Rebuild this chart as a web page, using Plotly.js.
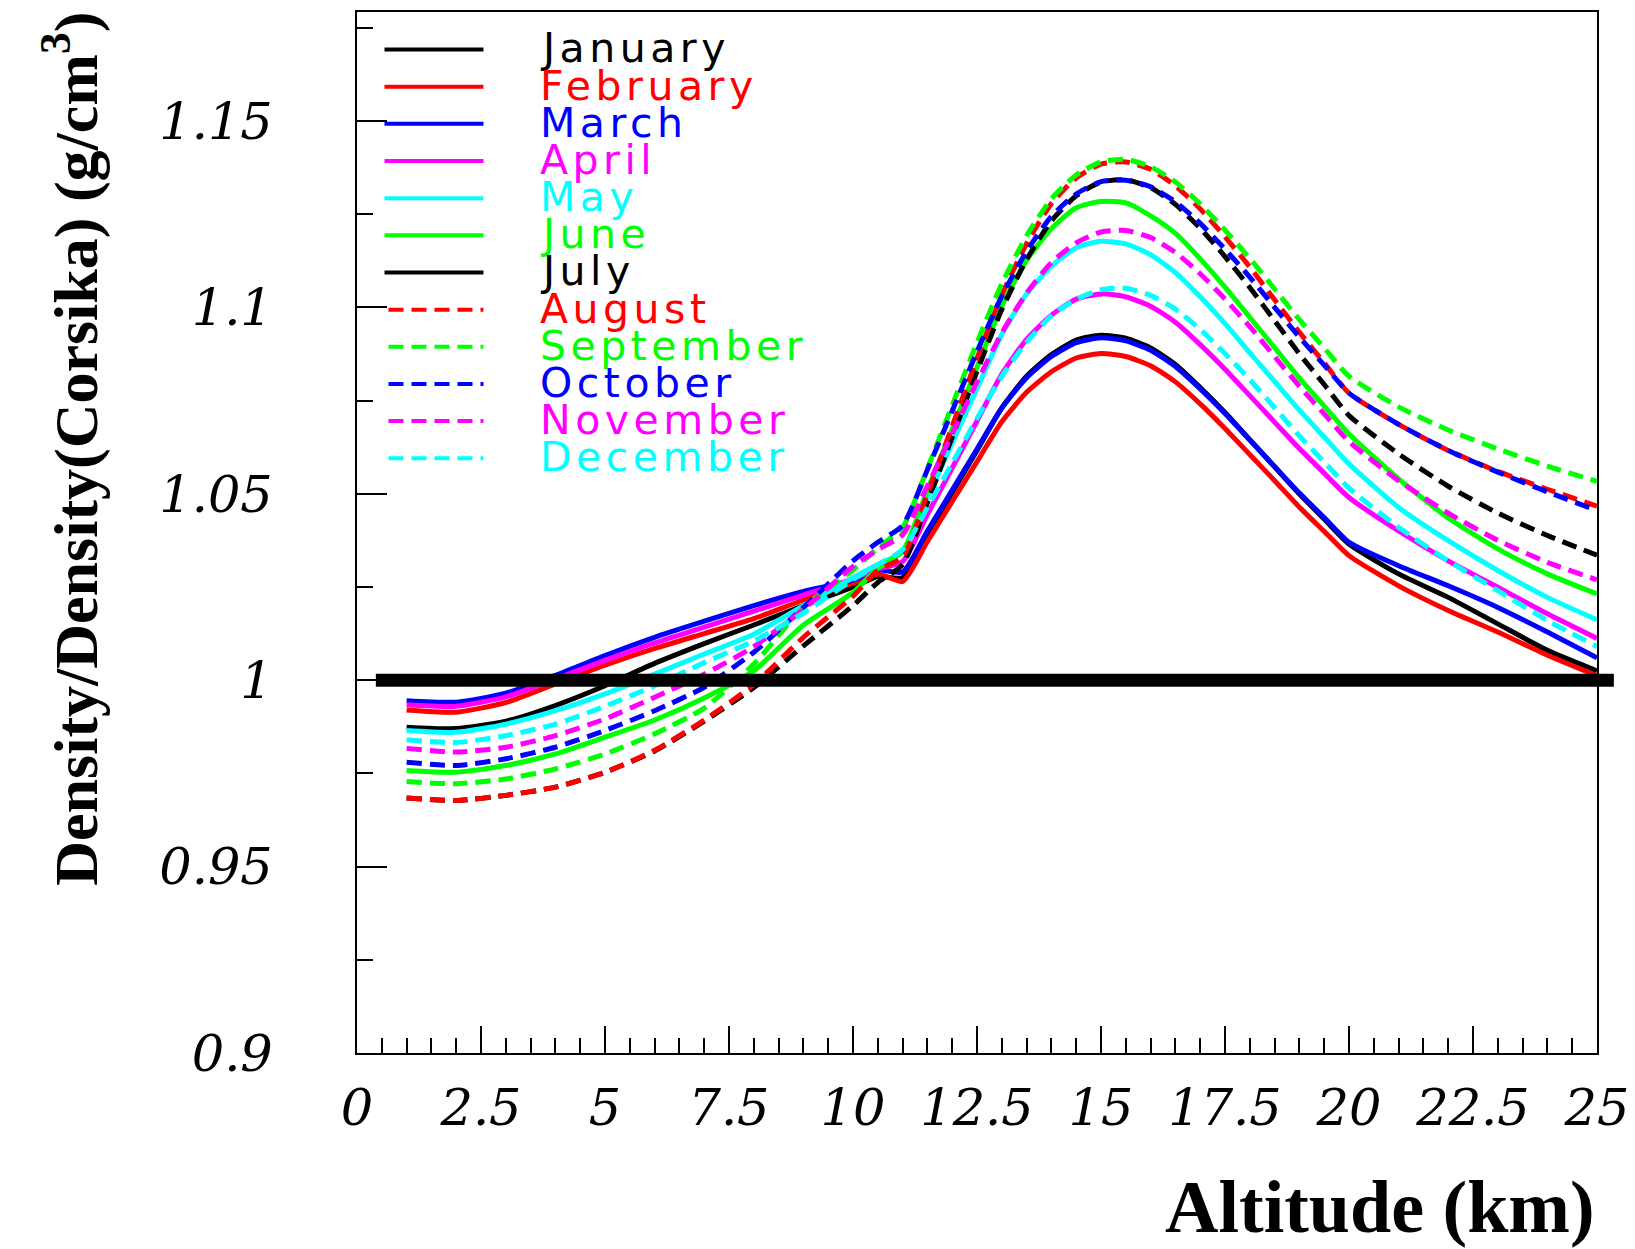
<!DOCTYPE html>
<html>
<head>
<meta charset="utf-8">
<script src="https://cdn.plot.ly/plotly-3.0.1.min.js"></script>
<style>
html,body{margin:0;padding:0;background:#fff;}
#chart{width:1635px;height:1249px;}
</style>
</head>
<body>
<div id="chart"></div>
<script>
// ---------------- DATA ----------------
const altitudeKm = [1, 2, 3, 4, 5, 6, 7, 8, 9, 10, 10.5, 11, 11.5, 12, 12.5, 13, 13.5, 14, 14.5, 15, 15.5, 16, 16.5, 17, 17.5, 18, 18.5, 19, 19.5, 20, 21, 22, 23, 24, 25];

const monthNames = ['January', 'February', 'March', 'April', 'May', 'June', 'July', 'August', 'September', 'October', 'November', 'December'];

const january   = [0.9874, 0.9870, 0.9890, 0.9932, 0.9985, 1.0045, 1.0098, 1.0148, 1.0200, 1.0250, 1.0278, 1.0275, 1.0389, 1.0503, 1.0616, 1.0730, 1.0815, 1.0873, 1.0912, 1.0925, 1.0917, 1.0891, 1.0847, 1.0785, 1.0718, 1.0645, 1.0572, 1.0499, 1.0432, 1.0365, 1.0285, 1.0222, 1.0151, 1.0080, 1.0025];
const february  = [0.9920, 0.9914, 0.9940, 0.9990, 1.0040, 1.0085, 1.0125, 1.0165, 1.0215, 1.0260, 1.0285, 1.0265, 1.0372, 1.0479, 1.0586, 1.0693, 1.0772, 1.0827, 1.0864, 1.0876, 1.0868, 1.0843, 1.0800, 1.0741, 1.0675, 1.0605, 1.0535, 1.0464, 1.0399, 1.0334, 1.0253, 1.0187, 1.0129, 1.0067, 1.0012];
const march     = [0.9945, 0.9941, 0.9965, 1.0013, 1.0066, 1.0115, 1.0158, 1.0200, 1.0238, 1.0268, 1.0296, 1.0290, 1.0400, 1.0510, 1.0620, 1.0730, 1.0811, 1.0868, 1.0905, 1.0918, 1.0910, 1.0885, 1.0841, 1.0781, 1.0715, 1.0644, 1.0573, 1.0502, 1.0436, 1.0370, 1.0307, 1.0253, 1.0195, 1.0129, 1.0060];
const april     = [0.9934, 0.9930, 0.9955, 1.0003, 1.0053, 1.0100, 1.0142, 1.0185, 1.0228, 1.0272, 1.0298, 1.0318, 1.0444, 1.0569, 1.0695, 1.0821, 1.0914, 1.0979, 1.1022, 1.1036, 1.1028, 1.1003, 1.0960, 1.0900, 1.0834, 1.0763, 1.0692, 1.0621, 1.0555, 1.0490, 1.0400, 1.0320, 1.0249, 1.0178, 1.0112];
const may       = [0.9865, 0.9860, 0.9882, 0.9918, 0.9963, 1.0016, 1.0070, 1.0123, 1.0200, 1.0275, 1.0310, 1.0345, 1.0490, 1.0636, 1.0782, 1.0927, 1.1036, 1.1110, 1.1160, 1.1177, 1.1170, 1.1141, 1.1093, 1.1028, 1.0956, 1.0878, 1.0801, 1.0724, 1.0652, 1.0580, 1.0463, 1.0374, 1.0294, 1.0222, 1.0162];
const june      = [0.9758, 0.9753, 0.9771, 0.9802, 0.9847, 0.9893, 0.9952, 1.0025, 1.0148, 1.0235, 1.0300, 1.0345, 1.0510, 1.0674, 1.0839, 1.1004, 1.1126, 1.1211, 1.1267, 1.1284, 1.1280, 1.1245, 1.1198, 1.1130, 1.1054, 1.0973, 1.0892, 1.0810, 1.0735, 1.0660, 1.0540, 1.0435, 1.0352, 1.0285, 1.0231];
const july      = [0.9684, 0.9677, 0.9691, 0.9713, 0.9753, 0.9810, 0.9890, 0.9980, 1.0092, 1.0200, 1.0262, 1.0310, 1.0476, 1.0652, 1.0828, 1.0994, 1.1128, 1.1232, 1.1299, 1.1336, 1.1342, 1.1321, 1.1276, 1.1212, 1.1136, 1.1053, 1.0964, 1.0875, 1.0793, 1.0710, 1.0607, 1.0520, 1.0448, 1.0388, 1.0335];
const august    = [0.9684, 0.9677, 0.9691, 0.9713, 0.9753, 0.9812, 0.9893, 0.9988, 1.0115, 1.0225, 1.0295, 1.0330, 1.0500, 1.0681, 1.0863, 1.1033, 1.1171, 1.1278, 1.1347, 1.1384, 1.1390, 1.1370, 1.1326, 1.1264, 1.1189, 1.1108, 1.1020, 1.0933, 1.0851, 1.0770, 1.0686, 1.0616, 1.0560, 1.0512, 1.0467];
const september = [0.9728, 0.9722, 0.9735, 0.9762, 0.9802, 0.9856, 0.9925, 1.0043, 1.0195, 1.0295, 1.0355, 1.0410, 1.0568, 1.0737, 1.0905, 1.1063, 1.1192, 1.1291, 1.1355, 1.1390, 1.1397, 1.1377, 1.1336, 1.1277, 1.1207, 1.1131, 1.1049, 1.0967, 1.0891, 1.0815, 1.0733, 1.0671, 1.0620, 1.0574, 1.0533];
const october   = [0.9780, 0.9771, 0.9789, 0.9820, 0.9865, 0.9918, 0.9981, 1.0075, 1.0195, 1.0320, 1.0370, 1.0415, 1.0564, 1.0722, 1.0881, 1.1030, 1.1150, 1.1244, 1.1304, 1.1337, 1.1341, 1.1323, 1.1283, 1.1225, 1.1156, 1.1081, 1.1000, 1.0920, 1.0845, 1.0770, 1.0686, 1.0616, 1.0558, 1.0505, 1.0455];
const november  = [0.9817, 0.9807, 0.9820, 0.9851, 0.9896, 0.9954, 1.0016, 1.0090, 1.0190, 1.0305, 1.0350, 1.0390, 1.0521, 1.0661, 1.0800, 1.0931, 1.1038, 1.1120, 1.1173, 1.1202, 1.1206, 1.1187, 1.1147, 1.1090, 1.1022, 1.0948, 1.0868, 1.0788, 1.0714, 1.0640, 1.0535, 1.0448, 1.0375, 1.0316, 1.0269];
const december  = [0.9840, 0.9833, 0.9851, 0.9882, 0.9930, 0.9985, 1.0047, 1.0105, 1.0180, 1.0270, 1.0310, 1.0350, 1.0463, 1.0582, 1.0702, 1.0815, 1.0906, 1.0977, 1.1022, 1.1047, 1.1051, 1.1032, 1.0995, 1.0941, 1.0876, 1.0806, 1.0731, 1.0655, 1.0585, 1.0515, 1.0410, 1.0320, 1.0240, 1.0160, 1.0090];

const seriesValues = [january, february, march, april, may, june, july, august, september, october, november, december];

// reference line (ratio = 1) and its horizontal extent in km
const referenceRatio = 1;
const referenceSpanKm = [0.38, 25.34];

const xTickLabels = ['0', '2.5', '5', '7.5', '10', '12.5', '15', '17.5', '20', '22.5', '25'];
const xTickValues = [0, 2.5, 5, 7.5, 10, 12.5, 15, 17.5, 20, 22.5, 25];

// ---------------- STYLES ----------------
const monthColors = ['#000000', '#ff0000', '#0000ff', '#ff00ff', '#00ffff', '#00ff00',
                     '#000000', '#ff0000', '#00ff00', '#0000ff', '#ff00ff', '#00ffff'];
const dashed = '15px,8px';
const curveDash  = ['solid','solid','solid','solid','solid','solid', dashed, dashed, dashed, dashed, dashed, dashed];
const legendDash = ['solid','solid','solid','solid','solid','solid','solid', dashed, dashed, dashed, dashed, dashed];

// ---------------- GEOMETRY ----------------
const W = 1635, H = 1249;
const plotL = 356.5, plotR = 1597, plotT = 12, plotB = 1052.7;
const plotW = plotR - plotL, plotH = plotB - plotT;
const xRange = [0, 25];
const yRange = [0.9, 1.1792];
const px2paperX = px => (px - plotL) / plotW;
const py2paperY = py => (plotB - py) / plotH;

// ---------------- TRACES ----------------
const traces = monthNames.map((name, i) => ({
  type: 'scatter',
  mode: 'lines',
  name: name,
  x: altitudeKm,
  y: seriesValues[i],
  line: { color: monthColors[i], width: 5, dash: curveDash[i], shape: 'spline', smoothing: 0.6 },
  showlegend: false,
  hoverinfo: 'skip'
}));

// ---------------- LEGEND (manual) ----------------
const legendRowY = i => py2paperY(49.5 + 37.15 * i);
const annotations = [];
const shapes = [];
monthNames.forEach((name, i) => {
  annotations.push({
    xref: 'paper', yref: 'paper',
    x: px2paperX(538), y: legendRowY(i) + 0.001,
    xanchor: 'left', yanchor: 'middle', align: 'left',
    text: name, showarrow: false,
    font: { family: 'DejaVu Sans', size: 41, color: monthColors[i] }
  });
  shapes.push({
    type: 'line', xref: 'paper', yref: 'paper',
    x0: px2paperX(legendDash[i] === 'solid' ? 384 : 388), x1: px2paperX(483),
    y0: legendRowY(i), y1: legendRowY(i),
    line: { color: monthColors[i], width: 4, dash: legendDash[i] }
  });
});

// reference line at ratio 1 (extends slightly past the frame, like the original)
shapes.push({
  type: 'line', xref: 'paper', yref: 'y', layer: 'above',
  x0: (referenceSpanKm[0] - xRange[0]) / (xRange[1] - xRange[0]),
  x1: (referenceSpanKm[1] - xRange[0]) / (xRange[1] - xRange[0]),
  y0: referenceRatio, y1: referenceRatio,
  line: { color: '#000000', width: 13 }
});

// axis titles
annotations.push({
  xref: 'paper', yref: 'paper',
  x: px2paperX(70), y: py2paperY(449),
  xanchor: 'center', yanchor: 'middle',
  textangle: -90,
  text: 'Density/Density(Corsika) (g/cm<sup>3</sup>)',
  showarrow: false,
  font: { family: 'Liberation Serif', size: 62, weight: 'bold', color: '#000' }
});
annotations.push({
  xref: 'paper', yref: 'paper',
  x: px2paperX(1597), y: py2paperY(1250),
  xanchor: 'right', yanchor: 'bottom',
  text: 'Altitude (km)',
  showarrow: false,
  font: { family: 'Liberation Serif', size: 74, weight: 'bold', color: '#000' }
});

// letter-spacing for the legend labels (annotations 0..11)
(function () {
  const sel = monthNames.map((_, i) => 'g.annotation[data-index="' + i + '"] text').join(',');
  const st = document.createElement('style');
  st.textContent = sel + '{letter-spacing:4.5px;}';
  document.head.appendChild(st);
})();

const tickFont = { family: 'DejaVu Serif', size: 51, style: 'italic', color: '#000' };

const layout = {
  width: W, height: H,
  paper_bgcolor: '#ffffff', plot_bgcolor: '#ffffff',
  margin: { l: plotL, r: W - plotR, t: plotT, b: H - plotB, pad: 0 },
  showlegend: false,
  xaxis: {
    range: xRange,
    tickvals: xTickValues, ticktext: xTickLabels,
    ticks: 'inside', ticklen: 27, tickwidth: 2, tickcolor: '#000',
    minor: { dtick: 0.5, ticks: 'inside', ticklen: 15, tickwidth: 2, tickcolor: '#000', showgrid: false },
    showline: true, linewidth: 2, linecolor: '#000', mirror: true,
    showgrid: false, zeroline: false,
    tickfont: tickFont,
    ticklabelstandoff: 9
  },
  yaxis: {
    range: yRange,
    tick0: 0.9, dtick: 0.05,
    ticks: 'inside', ticklen: 30, tickwidth: 2, tickcolor: '#000',
    minor: { dtick: 0.025, ticks: 'inside', ticklen: 16, tickwidth: 2, tickcolor: '#000', showgrid: false },
    showline: true, linewidth: 2, linecolor: '#000', mirror: true,
    showgrid: false, zeroline: false,
    tickfont: tickFont,
    ticklabelstandoff: 72
  },
  annotations: annotations,
  shapes: shapes
};

Plotly.newPlot('chart', traces, layout, { staticPlot: true, displayModeBar: false });
</script>
</body>
</html>
